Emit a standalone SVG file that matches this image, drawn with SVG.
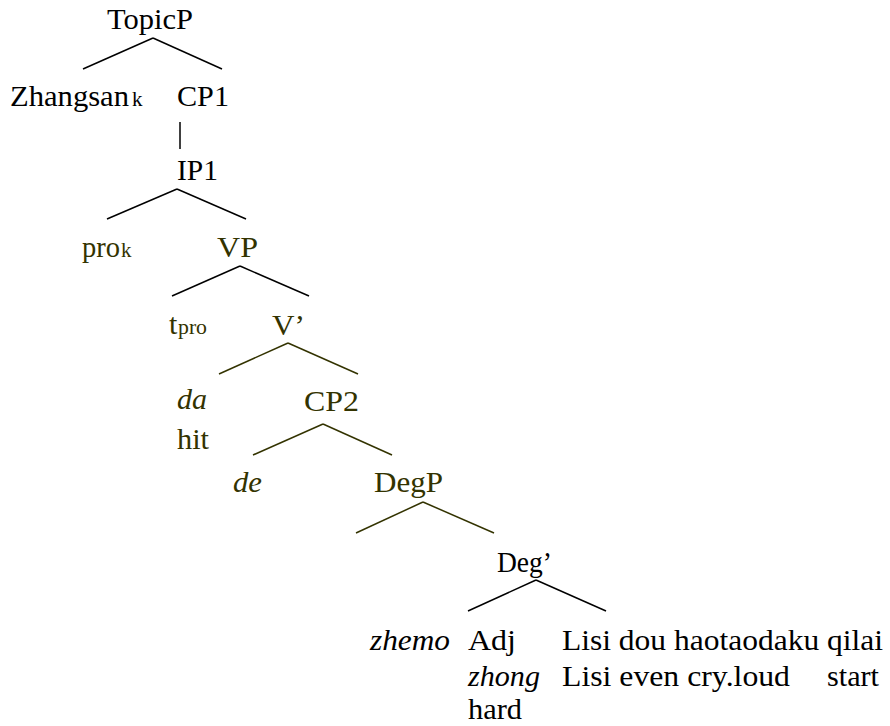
<svg xmlns="http://www.w3.org/2000/svg" width="890" height="726" viewBox="0 0 890 726">
<style>
text{font-family:"Liberation Serif","Times New Roman",serif;font-size:30px;fill:#000}
.o{fill:#333300}
.i{font-style:italic}
.s{font-size:21px}
line{stroke:#000;stroke-width:1.5}
line.o{stroke:#333300}
</style>
<rect width="890" height="726" fill="#fff"/>
<g id="connectors">
<line x1="153" y1="38" x2="83" y2="69"/>
<line x1="153" y1="38" x2="222" y2="69"/>
<line x1="180" y1="122" x2="180" y2="149"/>
<line x1="177" y1="189" x2="107" y2="219"/>
<line x1="177" y1="189" x2="246" y2="219"/>
<line x1="240" y1="266" x2="172" y2="296"/>
<line x1="240" y1="266" x2="309" y2="296"/>
<line class="o" x1="288" y1="343" x2="219" y2="374"/>
<line class="o" x1="288" y1="343" x2="358" y2="374"/>
<line class="o" x1="323" y1="424" x2="253" y2="455"/>
<line class="o" x1="323" y1="424" x2="392" y2="455"/>
<line class="o" x1="423" y1="502" x2="356" y2="533"/>
<line class="o" x1="423" y1="502" x2="494" y2="533"/>
<line x1="536" y1="580" x2="468" y2="611"/>
<line x1="536" y1="580" x2="606" y2="611"/>
</g>
<g id="TopicP"><text x="107" y="29" textLength="86" lengthAdjust="spacingAndGlyphs">TopicP</text></g>
<g id="Zhangsan"><text x="10" y="106"><tspan textLength="119" lengthAdjust="spacingAndGlyphs">Zhangsan</tspan><tspan class="s" x="132">k</tspan></text></g>
<g id="CP1"><text x="177" y="106" textLength="52" lengthAdjust="spacingAndGlyphs">CP1</text></g>
<g id="IP1"><text x="177" y="180" textLength="41" lengthAdjust="spacingAndGlyphs">IP1</text></g>
<g id="pro"><text class="o" x="82" y="257"><tspan textLength="38" lengthAdjust="spacingAndGlyphs">pro</tspan><tspan class="s" x="121">k</tspan></text></g>
<g id="VP"><text class="o" x="217" y="257" textLength="41" lengthAdjust="spacingAndGlyphs">VP</text></g>
<g id="tpro"><text class="o" x="169" y="334">t<tspan class="s" x="178" textLength="29" lengthAdjust="spacingAndGlyphs">pro</tspan></text></g>
<g id="Vbar"><text class="o" x="272" y="335" textLength="33" lengthAdjust="spacingAndGlyphs">V’</text></g>
<g id="da"><text class="o i" x="177" y="409" textLength="30" lengthAdjust="spacingAndGlyphs">da</text><text class="o" x="177" y="449" textLength="32" lengthAdjust="spacingAndGlyphs">hit</text></g>
<g id="CP2"><text class="o" x="304" y="411" textLength="55" lengthAdjust="spacingAndGlyphs">CP2</text></g>
<g id="de"><text class="o i" x="233" y="492" textLength="29" lengthAdjust="spacingAndGlyphs">de</text></g>
<g id="DegP"><text class="o" x="374" y="492" textLength="69" lengthAdjust="spacingAndGlyphs">DegP</text></g>
<g id="Degbar"><text x="497" y="572" textLength="55" lengthAdjust="spacingAndGlyphs">Deg’</text></g>
<g id="zhemo"><text class="i" x="370" y="650" textLength="80" lengthAdjust="spacingAndGlyphs">zhemo</text></g>
<g id="Adj"><text x="468" y="650" textLength="48" lengthAdjust="spacingAndGlyphs">Adj</text><text class="i" x="468" y="686" textLength="72" lengthAdjust="spacingAndGlyphs">zhong</text><text x="468" y="719" textLength="54" lengthAdjust="spacingAndGlyphs">hard</text></g>
<g id="clause"><text x="562" y="650" textLength="321" lengthAdjust="spacingAndGlyphs">Lisi dou haotaodaku qilai</text><text x="562" y="686" textLength="228" lengthAdjust="spacingAndGlyphs">Lisi even cry.loud</text><text x="827" y="686" textLength="52" lengthAdjust="spacingAndGlyphs">start</text></g>
</svg>
